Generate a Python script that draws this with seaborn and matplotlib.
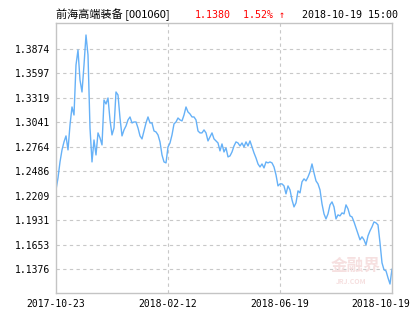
import matplotlib
matplotlib.use("Agg")
import matplotlib.pyplot as plt
import matplotlib.transforms as mtransforms
import seaborn as sns
import pandas as pd

title_name = "前海高端装备 [001060]"
last_value = "1.1380"
change_pct = "1.52% ↑"
timestamp = "2018-10-19 15:00"

nav = [
    1.2277, 1.2413, 1.2594, 1.2730, 1.2821, 1.2889, 1.2730, 1.3013, 1.3217, 1.3126,
    1.3693, 1.3863, 1.3523, 1.3387, 1.3693, 1.4033, 1.3806, 1.2979, 1.2594, 1.2843,
    1.2673, 1.2923, 1.2866, 1.2787, 1.3296, 1.3251, 1.3319, 1.3070, 1.2900, 1.2979,
    1.3387, 1.3353, 1.3092, 1.2889, 1.2957, 1.3002, 1.3070, 1.3104, 1.3036, 1.3047,
    1.3047, 1.2979, 1.2889, 1.2855, 1.2945, 1.3036, 1.3104, 1.3036, 1.3036, 1.2945,
    1.2934, 1.2900, 1.2821, 1.2673, 1.2594, 1.2583, 1.2764, 1.2809, 1.2900, 1.3025,
    1.3047, 1.3092, 1.3070, 1.3059, 1.3126, 1.3217, 1.3160, 1.3138, 1.3104, 1.3104,
    1.3070, 1.2945, 1.2923, 1.2923, 1.2957, 1.2923, 1.2832, 1.2877, 1.2923, 1.2855,
    1.2832, 1.2809, 1.2719, 1.2798, 1.2707, 1.2753, 1.2651, 1.2662, 1.2707, 1.2775,
    1.2821, 1.2809, 1.2775, 1.2809, 1.2764, 1.2821, 1.2775, 1.2832, 1.2764, 1.2696,
    1.2639, 1.2571, 1.2537, 1.2571, 1.2526, 1.2594, 1.2583, 1.2594, 1.2583, 1.2537,
    1.2447, 1.2322, 1.2345, 1.2345, 1.2322, 1.2232, 1.2322, 1.2277, 1.2164, 1.2084,
    1.2130, 1.2266, 1.2243, 1.2368, 1.2402, 1.2379, 1.2424, 1.2481, 1.2571, 1.2470,
    1.2379, 1.2345, 1.2277, 1.2118, 1.2005, 1.1948, 1.2005, 1.2107, 1.2141, 1.2084,
    1.1948, 1.1994, 1.1982, 1.2016, 1.2005, 1.2107, 1.2062, 1.1982, 1.1971, 1.1914,
    1.1847, 1.1779, 1.1711, 1.1745, 1.1711, 1.1654, 1.1756, 1.1813, 1.1858, 1.1914,
    1.1903, 1.1880, 1.1677, 1.1450, 1.1371, 1.1359, 1.1280, 1.1210, 1.1380,
]

y_ticks = [1.1376, 1.1653, 1.1931, 1.2209, 1.2486, 1.2764, 1.3041, 1.3319, 1.3597, 1.3874]
x_tick_labels = ["2017-10-23", "2018-02-12", "2018-06-19", "2018-10-19"]

df = pd.DataFrame({"idx": range(len(nav)), "nav": nav})
n = len(nav)

sns.set_theme(style="white")
plt.rcParams["font.family"] = ["Noto Sans CJK SC", "DejaVu Sans"]

fig = plt.figure(figsize=(4.15, 3.30), dpi=100)
ax = fig.add_axes([56/415, 1-293/330, 336/415, 270/330])

sns.lineplot(data=df, x="idx", y="nav", ax=ax, color="#66b1f7", linewidth=1.0)

ax.set_xlim(0, n - 1)
ax.set_ylim(1.1108, 1.4169)

xt = [0, (n - 1) // 3, 2 * (n - 1) // 3, n - 1]
ax.set_xticks(xt)
ax.set_xticklabels(x_tick_labels, family=["DejaVu Sans Mono"], fontsize=7)
ax.set_yticks(y_ticks)
ax.set_yticklabels([f"{v:.4f}" for v in y_ticks], family=["DejaVu Sans Mono"], fontsize=7)
ax.tick_params(axis="both", length=0, pad=4, colors="#000000")
ax.set_xlabel("")
ax.set_ylabel("")

# shift last x label left so it stays inside the figure, as in the reference
last_lbl = ax.get_xticklabels()[-1]
last_lbl.set_transform(last_lbl.get_transform() +
                       mtransforms.ScaledTranslation(-11/100, 0, fig.dpi_scale_trans))

for v in y_ticks:
    ax.axhline(v, color="#c8c8c8", linestyle=(0, (3, 3)), linewidth=0.8, zorder=0)
for v in xt[1:3]:
    ax.axvline(v, color="#c8c8c8", linestyle=(0, (3, 3)), linewidth=0.8, zorder=0)

for s in ax.spines.values():
    s.set_color("#c4c4c4")
    s.set_linewidth(1.0)

# header
fig.text(56/415, 1-15/330, title_name, fontsize=8, color="#000000", va="center", ha="left")
fig.text(195/415, 1-15/330, last_value, fontsize=7.2, color="#ff0000", va="center", ha="left",
         family=["DejaVu Sans Mono"])
fig.text(243/415, 1-15/330, change_pct, fontsize=7.2, color="#ff0000", va="center", ha="left",
         family=["DejaVu Sans Mono", "DejaVu Sans"])
fig.text(302/415, 1-15/330, timestamp, fontsize=7.2, color="#000000", va="center", ha="left",
         family=["DejaVu Sans Mono"])

# watermark
fig.text(331/415, 1-266/330, "金融界", fontsize=12, color="#f6e0e0", va="center", ha="left",
         fontweight="bold", zorder=0)
fig.text(336/415, 1-282/330, "JRJ.COM", fontsize=5, color="#f6e0e0", va="center", ha="left",
         fontweight="bold", zorder=0)

fig.savefig("out.png", dpi=100)
